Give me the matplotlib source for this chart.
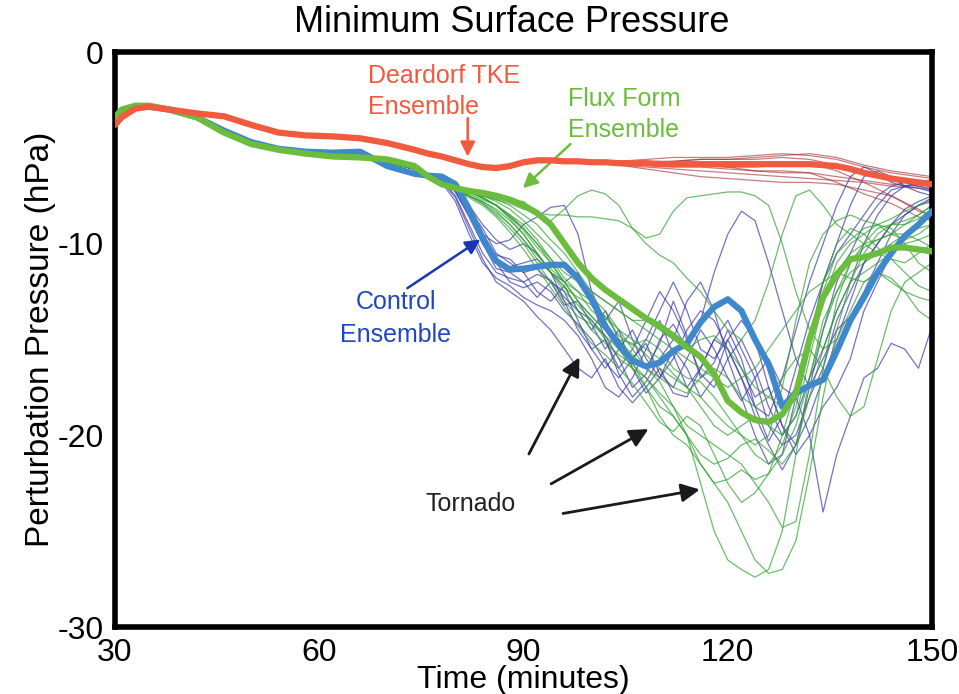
import numpy as np
import matplotlib
matplotlib.use("Agg")
import matplotlib.pyplot as plt

plt.rcParams['font.family'] = ['Liberation Sans', 'DejaVu Sans']
plt.rcParams['axes.unicode_minus'] = False

# time axes (minutes)
t_early = [30, 31, 33, 35, 38, 42, 46, 50, 54, 58, 62, 66, 70, 74, 76]
t_late = list(range(78, 151, 2))
t_red = [104, 108, 112, 116, 120, 124, 128, 132, 136, 140, 144, 148, 150]

# shared early trace of the members (hPa)
base_early = [-3.6, -3.2, -2.9, -2.85, -3.0, -3.4, -4.1, -4.7, -5.1, -5.35, -5.5, -5.55, -5.75, -6.1, -6.4]

# ensemble means
red_mean_early = [-3.8, -3.4, -2.95, -2.85, -3.0, -3.2, -3.35, -3.8, -4.2, -4.35, -4.4, -4.5, -4.75, -5.1, -5.3]
red_mean_late = [-5.45, -5.65, -5.85, -6.0, -6.05, -5.95, -5.75, -5.65, -5.65, -5.7, -5.7, -5.75, -5.75,
                 -5.8, -5.8, -5.8, -5.85, -5.85, -5.85, -5.85, -5.85, -5.85, -5.85, -5.85, -5.85, -5.85,
                 -5.85, -5.85, -5.9, -5.95, -6.1, -6.3, -6.45, -6.6, -6.7, -6.8, -6.9]

blue_mean_early = [-3.6, -3.2, -2.9, -2.85, -3.0, -3.4, -4.1, -4.7, -5.05, -5.2, -5.25, -5.2, -5.95, -6.35, -6.45]
blue_mean_late = [-6.5, -6.9, -8.2, -9.7, -10.9, -11.35, -11.3, -11.2, -11.1, -11.1, -11.8, -12.9, -14.3,
                  -15.3, -16.1, -16.4, -16.2, -15.6, -15.2, -14.1, -13.3, -12.9, -13.5, -15.0, -16.3, -18.5,
                  -17.8, -17.4, -17.1, -15.6, -14.0, -12.8, -11.5, -10.5, -9.6, -9.0, -8.3]

green_mean_early = [-3.4, -3.0, -2.8, -2.8, -3.0, -3.4, -4.2, -4.8, -5.1, -5.3, -5.45, -5.5, -5.6, -5.95, -6.5]
green_mean_late = [-6.9, -7.1, -7.25, -7.35, -7.5, -7.7, -8.0, -8.4, -9.0, -10.0, -11.0, -11.8, -12.4,
                   -12.9, -13.4, -13.9, -14.3, -14.8, -15.4, -15.9, -16.8, -18.2, -18.8, -19.2, -19.3, -18.9,
                   -17.8, -15.0, -12.8, -11.6, -10.8, -10.7, -10.5, -10.2, -10.2, -10.3, -10.4]

# control ensemble members (t_late)
blue_members = [
    [-6.6, -7.2, -8.4, -9.5, -10.0, -9.8, -9.0, -8.6, -8.1, -8.0, -9.5, -12.5, -14.0, -13.0, -15.0, -16.5, -15.2,
     -13.0, -14.8, -17.0, -16.2, -14.5, -16.0, -18.5, -20.3, -19.0, -16.5, -14.0, -12.0, -10.5, -9.5, -8.5, -7.5,
     -7.0, -6.8, -7.0, -7.2],
    [-6.7, -7.5, -9.0, -10.5, -11.5, -11.8, -12.0, -11.6, -11.9, -12.8, -13.5, -14.0, -14.8, -16.0, -17.5, -16.8,
     -15.0, -14.2, -15.5, -14.0, -11.5, -9.5, -8.3, -8.8, -11.0, -13.5, -16.0, -17.5, -16.0, -14.5, -13.8, -12.5,
     -11.0, -9.5, -8.5, -8.0, -7.6],
    [-6.5, -7.0, -8.0, -9.5, -11.0, -12.0, -12.3, -12.0, -12.5, -13.5, -14.2, -15.0, -16.2, -17.0, -16.0, -15.2,
     -16.8, -17.5, -16.0, -14.5, -15.5, -17.0, -18.2, -17.0, -16.0, -17.5, -18.0, -20.0, -24.0, -21.0, -19.0,
     -17.0, -16.5, -15.2, -15.5, -16.5, -14.3],
    [-6.6, -7.3, -8.6, -10.0, -11.0, -11.2, -11.0, -10.8, -11.5, -13.0, -14.5, -15.5, -15.0, -16.8, -18.0, -17.2,
     -16.0, -15.0, -13.0, -12.0, -13.5, -16.0, -18.0, -20.0, -21.5, -21.0, -18.0, -15.0, -12.0, -10.0, -8.0, -6.5,
     -6.2, -6.5, -7.0, -7.3, -7.5],
    [-6.8, -7.8, -9.5, -11.0, -11.8, -12.2, -12.8, -13.2, -13.5, -14.0, -14.8, -16.0, -17.5, -18.0, -17.0, -15.5,
     -14.0, -15.8, -17.5, -16.5, -15.0, -14.0, -15.5, -17.0, -19.5, -20.5, -20.0, -18.0, -16.5, -14.0, -12.5,
     -11.0, -10.0, -9.0, -8.5, -8.0, -7.8],
    [-6.5, -7.0, -8.0, -9.0, -9.8, -10.3, -10.0, -10.5, -11.5, -12.0, -11.5, -13.0, -15.0, -16.5, -15.5, -14.0,
     -12.5, -13.5, -15.0, -16.8, -17.5, -16.0, -15.0, -16.5, -18.5, -20.0, -19.0, -17.0, -15.5, -13.5, -12.0,
     -10.0, -8.5, -7.5, -7.0, -6.8, -6.9],
    [-6.7, -7.6, -9.2, -10.8, -12.0, -12.5, -13.0, -13.8, -14.5, -15.5, -16.5, -17.0, -16.0, -17.5, -18.3, -17.5,
     -16.5, -17.8, -18.0, -16.5, -15.0, -15.5, -17.0, -19.0, -20.5, -21.8, -20.5, -17.5, -14.5, -12.0, -10.5,
     -9.0, -8.0, -7.2, -7.0, -7.1, -7.3],
    [-6.6, -7.2, -8.2, -9.2, -10.5, -11.0, -11.5, -12.5, -13.0, -12.2, -13.5, -14.5, -13.5, -15.0, -16.0, -15.0,
     -13.5, -12.0, -13.5, -15.5, -16.0, -15.0, -14.0, -15.0, -17.5, -19.5, -20.5, -19.0, -17.0, -15.0, -13.0,
     -11.0, -10.0, -9.0, -8.2, -7.8, -7.5],
    [-6.6, -7.3, -8.5, -10.0, -11.3, -11.5, -12.0, -12.8, -12.0, -12.5, -14.0, -15.5, -16.5, -15.5, -14.5, -16.0,
     -17.0, -16.0, -14.5, -13.5, -14.0, -15.5, -17.0, -18.5, -19.0, -17.0, -14.5, -12.0, -10.0, -8.0, -6.5,
     -6.0, -6.3, -6.8, -7.0, -6.9, -7.0],
    [-6.5, -7.1, -8.3, -9.8, -10.6, -10.8, -11.5, -11.3, -12.0, -13.2, -13.0, -14.2, -15.5, -14.5, -16.5, -17.8,
     -17.0, -15.5, -16.5, -18.0, -17.0, -15.0, -16.5, -18.0, -17.5, -19.5, -21.0, -20.0, -18.5, -17.5, -16.0,
     -13.5, -12.0, -10.5, -9.5, -9.0, -8.5],
]

# flux form ensemble members (t_late)
green_members = [
    [-6.9, -7.1, -7.3, -7.5, -7.6, -7.7, -7.8, -8.4, -8.8, -8.2, -7.5, -7.2, -7.4, -8.0, -9.2, -9.7, -9.5,
     -8.3, -7.6, -7.5, -7.4, -7.3, -7.3, -7.5, -8.0, -10.0, -12.5, -14.5, -15.5, -15.0, -13.5, -12.0, -11.5,
     -12.0, -12.5, -12.8, -13.0],
    [-6.9, -7.1, -7.3, -7.5, -7.7, -7.9, -8.2, -8.4, -8.5, -8.5, -8.6, -8.6, -8.7, -8.8, -9.2, -10.0, -10.6,
     -11.0, -11.8, -12.5, -13.5, -14.5, -15.0, -14.0, -12.0, -9.5, -7.5, -7.2, -8.0, -9.0, -9.5, -10.0, -10.5,
     -10.0, -9.5, -9.8, -10.2],
    [-6.9, -7.2, -7.5, -7.8, -8.2, -8.8, -9.5, -10.5, -11.5, -12.5, -13.2, -14.0, -15.0, -16.0, -16.5, -17.0,
     -17.8, -18.5, -20.0, -22.5, -25.0, -26.5, -27.0, -27.4, -27.0, -25.0, -21.0, -17.0, -14.0, -12.5, -11.5,
     -11.0, -10.5, -10.8, -11.0, -10.5, -10.0],
    [-6.9, -7.2, -7.4, -7.7, -8.0, -8.5, -9.0, -9.8, -10.8, -11.8, -12.5, -13.5, -14.0, -15.5, -16.5, -17.5,
     -19.0, -20.0, -20.5, -21.5, -22.5, -23.5, -25.0, -26.5, -27.2, -27.0, -25.5, -22.0, -18.0, -14.5, -12.0,
     -10.5, -9.5, -9.0, -8.8, -8.5, -8.0],
    [-6.9, -7.1, -7.3, -7.6, -8.0, -8.6, -9.3, -10.2, -11.0, -12.0, -13.0, -13.8, -14.5, -15.0, -15.8, -16.5,
     -17.2, -18.5, -19.5, -20.0, -20.5, -21.0, -21.5, -22.5, -23.5, -24.8, -24.5, -21.0, -16.5, -13.0, -11.0,
     -10.0, -9.2, -9.0, -9.0, -8.7, -8.2],
    [-6.9, -7.2, -7.5, -7.8, -8.3, -9.0, -9.8, -10.8, -11.5, -12.2, -13.5, -14.5, -15.2, -15.8, -16.3, -17.0,
     -18.0, -19.0, -20.0, -21.5, -22.5, -22.3, -21.8, -22.3, -22.0, -21.0, -19.5, -17.0, -14.5, -12.5, -11.0,
     -10.2, -9.8, -9.5, -9.5, -9.2, -9.0],
    [-6.9, -7.2, -7.5, -7.9, -8.5, -9.2, -10.0, -11.0, -12.0, -13.0, -13.8, -14.2, -14.8, -15.5, -16.2, -17.5,
     -18.5, -19.0, -20.0, -21.0, -21.5, -21.2, -20.5, -20.2, -20.8, -21.5, -20.5, -18.0, -15.5, -13.5, -12.0,
     -11.5, -11.0, -10.5, -10.0, -9.8, -9.5],
    [-6.9, -7.2, -7.6, -8.0, -8.6, -9.4, -10.3, -11.3, -12.3, -13.3, -14.3, -15.2, -15.8, -16.5, -17.3, -18.3,
     -19.3, -19.8, -19.0, -19.5, -21.0, -22.5, -23.5, -23.0, -22.0, -20.0, -17.5, -15.0, -13.0, -11.5, -10.5,
     -10.0, -9.8, -9.5, -9.0, -8.5, -8.0],
    [-6.9, -7.1, -7.3, -7.6, -8.0, -8.7, -9.5, -10.5, -11.5, -12.3, -12.8, -13.2, -13.8, -14.5, -15.5, -16.5,
     -17.0, -17.5, -17.8, -17.0, -16.5, -17.0, -18.0, -18.5, -18.0, -17.0, -16.0, -15.5, -16.5, -18.0, -19.0,
     -18.5, -16.0, -13.5, -12.0, -11.5, -11.0],
    [-6.9, -7.1, -7.3, -7.5, -7.8, -8.2, -8.8, -9.5, -10.2, -11.0, -11.8, -12.5, -13.0, -13.5, -14.0, -14.5,
     -15.0, -15.5, -16.0, -16.5, -17.0, -17.5, -17.0, -16.5, -15.5, -14.5, -13.5, -12.5, -12.0, -11.5, -11.8,
     -12.0, -11.5, -11.8, -12.5, -13.5, -14.0],
    [-6.9, -7.1, -7.3, -7.6, -8.0, -8.5, -9.2, -10.0, -11.0, -12.0, -13.0, -13.8, -14.5, -15.0, -15.2, -15.8,
     -16.5, -17.0, -17.5, -18.0, -18.8, -19.5, -20.0, -20.5, -20.0, -17.5, -14.0, -11.0, -9.5, -8.8, -8.5,
     -8.8, -9.0, -8.7, -8.3, -8.0, -7.7],
    [-6.9, -7.1, -7.3, -7.6, -8.0, -8.6, -9.2, -10.0, -10.8, -11.5, -12.0, -12.8, -13.5, -14.5, -15.0, -15.5,
     -16.0, -16.8, -17.5, -18.5, -19.5, -20.0, -19.5, -19.0, -19.5, -20.0, -19.0, -16.0, -13.0, -11.0, -10.0,
     -9.5, -9.0, -9.2, -10.0, -11.0, -11.5],
    [-6.9, -7.2, -7.5, -7.9, -8.4, -9.0, -9.8, -10.6, -11.3, -12.0, -12.5, -13.0, -13.8, -14.8, -15.3, -15.0,
     -15.5, -16.5, -17.0, -17.2, -18.0, -19.0, -20.0, -21.0, -21.5, -20.5, -18.5, -15.5, -12.5, -10.5, -9.8,
     -9.2, -9.0, -9.5, -9.8, -9.5, -9.0],
    [-6.9, -7.1, -7.3, -7.5, -7.7, -8.0, -8.5, -9.0, -9.8, -10.5, -11.5, -12.5, -13.0, -13.5, -14.0, -14.0,
     -14.5, -15.0, -15.5, -15.0, -14.8, -15.5, -16.5, -17.5, -18.0, -18.5, -17.5, -15.0, -12.0, -10.0, -9.2,
     -9.5, -10.2, -10.8, -11.5, -12.2, -12.5],
]

# deardorf TKE ensemble members (t_red, earlier part follows the mean)
red_members = [
    [-5.7, -5.6, -5.5, -5.5, -5.5, -5.4, -5.3, -5.4, -5.6, -6.0, -6.3, -6.5, -6.6],
    [-5.8, -5.8, -5.7, -5.6, -5.6, -5.6, -5.5, -5.6, -5.9, -6.3, -6.6, -6.7, -6.7],
    [-5.9, -6.0, -6.1, -6.2, -6.3, -6.4, -6.5, -6.6, -6.7, -6.8, -7.0, -7.1, -7.2],
    [-5.9, -6.1, -6.3, -6.5, -6.6, -6.7, -6.8, -6.8, -6.9, -7.2, -7.5, -8.2, -8.6],
    [-5.8, -5.9, -5.9, -5.9, -6.0, -6.0, -5.9, -5.8, -6.2, -6.8, -7.5, -8.3, -8.5],
    [-5.8, -5.7, -5.7, -5.6, -5.6, -5.5, -5.4, -5.3, -5.5, -5.9, -6.2, -6.4, -6.5],
    [-5.8, -5.8, -5.8, -5.9, -6.0, -6.2, -6.3, -6.3, -6.5, -6.7, -6.9, -7.0, -7.1],
    [-5.8, -5.9, -6.0, -6.0, -6.1, -6.2, -6.2, -6.3, -6.8, -7.4, -7.9, -8.6, -8.8],
]

RED = '#f05a3e'
GREEN = '#6cbd3e'
BLUE = '#3f88cc'

fig = plt.figure(figsize=(9.59, 6.94), dpi=100)
ax = fig.add_axes([0.1199, 0.0965, 0.852, 0.8285])

t_all = t_early + t_late
n_keep = sum(1 for t in t_all if t < t_red[0])
red_mean = red_mean_early + red_mean_late

for m in red_members:
    ax.plot(t_all[:n_keep] + t_red, red_mean[:n_keep] + m, color='#a02828', lw=0.9, alpha=0.6, zorder=2)
for m in blue_members:
    ax.plot(t_all, base_early + m, color='#3838a6', lw=0.9, alpha=0.7, zorder=2)
for m in green_members:
    ax.plot(t_all, base_early + m, color='#2fa02f', lw=0.9, alpha=0.7, zorder=2)

ax.plot(t_all, blue_mean_early + blue_mean_late, color=BLUE, lw=4.5, zorder=4,
        solid_capstyle='round', solid_joinstyle='round')
ax.plot(t_all, green_mean_early + green_mean_late, color=GREEN, lw=4.5, zorder=5,
        solid_capstyle='round', solid_joinstyle='round')
ax.plot(t_all, red_mean, color=RED, lw=4.5, zorder=6, solid_capstyle='round', solid_joinstyle='round')

ax.set_xlim(30, 150)
ax.set_ylim(-30, 0)
ax.set_xticks([30, 60, 90, 120, 150])
ax.set_yticks([0, -10, -20, -30])
ax.tick_params(length=0, labelsize=23, pad=8)
for s in ax.spines.values():
    s.set_linewidth(4)

fig.text(512 / 959, 1 - 22 / 694, 'Minimum Surface Pressure', ha='center', va='center', fontsize=26)
ax.set_xlabel('Time (minutes)', fontsize=23, labelpad=-2)
ax.set_ylabel('Perturbation Pressure (hPa)', fontsize=24, labelpad=1)

# annotations
ax.text(67.2, -2.05, 'Deardorf TKE\nEnsemble', color=RED, fontsize=18, ha='left', va='center',
        linespacing=1.35)
ax.annotate('', xy=(81.8, -5.6), xytext=(81.8, -3.3),
            arrowprops=dict(arrowstyle='-|>', color=RED, lw=1.8, mutation_scale=22))
ax.text(96.5, -3.25, 'Flux Form\nEnsemble', color=GREEN, fontsize=18, ha='left', va='center',
        linespacing=1.4)
ax.annotate('', xy=(89.6, -7.2), xytext=(97.2, -4.7),
            arrowprops=dict(arrowstyle='-|>', color=GREEN, lw=1.8, mutation_scale=22))
ax.text(71.2, -13.9, 'Control\nEnsemble', color='#2146c4', fontsize=18, ha='center', va='center',
        linespacing=1.45)
ax.annotate('', xy=(84.0, -9.7), xytext=(72.6, -12.4),
            arrowprops=dict(arrowstyle='-|>', color='#1a36b4', lw=1.8, mutation_scale=22))
ax.text(82.2, -23.6, 'Tornado', color='#222222', fontsize=18, ha='center', va='center')
for start, end in [((90.6, -21.1), (98.4, -15.8)),
                   ((93.7, -22.6), (108.7, -19.6)),
                   ((95.4, -24.1), (116.3, -22.8))]:
    ax.annotate('', xy=end, xytext=start,
                arrowprops=dict(arrowstyle='-|>', color='#1a1a1a', lw=2, mutation_scale=28))

fig.savefig('out.png', dpi=100)
